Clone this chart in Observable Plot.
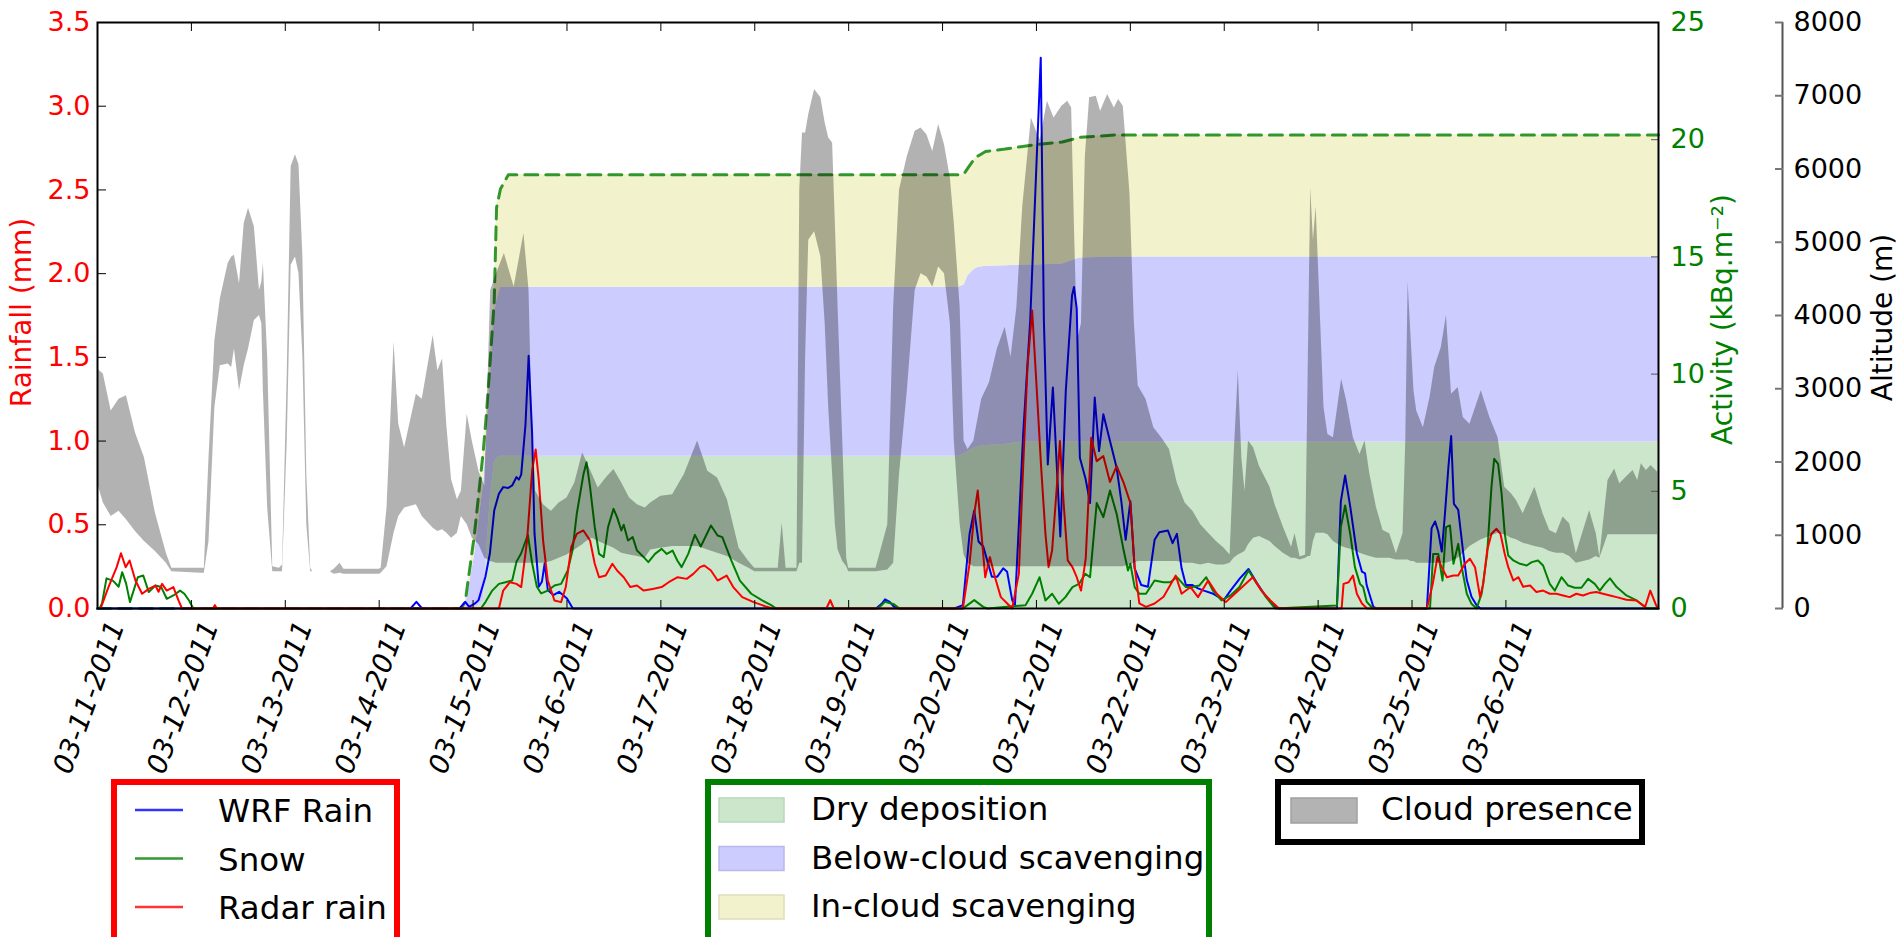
<!DOCTYPE html>
<html>
<head>
<meta charset="utf-8">
<script src="https://cdn.jsdelivr.net/npm/d3@7"></script>
<script src="https://cdn.jsdelivr.net/npm/@observablehq/plot@0.6"></script>
<style>
  body { margin: 0; background: #fff; }
  #wrap { width: 1903px; height: 937px; overflow: hidden; position: relative; }
  svg { display: block; }
</style>
</head>
<body>
<div id="wrap"></div>
<script>
// ---------- DATA (hours since 2011-03-11 00:00) ----------
const dayTickLabels = ["03-11-2011","03-12-2011","03-13-2011","03-14-2011","03-15-2011","03-16-2011","03-17-2011","03-18-2011","03-19-2011","03-20-2011","03-21-2011","03-22-2011","03-23-2011","03-24-2011","03-25-2011","03-26-2011"];
const rainfallTicks = [0, 0.5, 1.0, 1.5, 2.0, 2.5, 3.0, 3.5];
const activityTicks = [0, 5, 10, 15, 20, 25];
const altitudeTicks = [0, 1000, 2000, 3000, 4000, 5000, 6000, 7000, 8000];

// cumulative deposition levels (kBq.m-2)
const actHours      = [0, 93, 94, 96.3, 98.6, 99.5, 100.3, 101.4, 102, 103, 105, 220, 221.5, 222.5, 224, 225, 227, 232, 236, 240, 246.6, 250, 251, 260, 399];
const dryDeposition = [0, 0, 0, 0, 0.3, 2.5, 4.5, 6.2, 6.4, 6.5, 6.5, 6.5, 6.6, 6.7, 6.85, 6.9, 6.95, 7.0, 7.1, 7.1, 7.1, 7.1, 7.1, 7.1, 7.1];
const belowCloudTop = [0, 0, 0.05, 2.2, 5.2, 7.3, 9.6, 12.4, 13.1, 13.7, 13.7, 13.7, 13.8, 14.2, 14.45, 14.55, 14.6, 14.62, 14.65, 14.65, 14.7, 14.9, 14.95, 15.0, 15.0];
const totalActivity = [0, 0, 0.3, 3.1, 6.7, 8.5, 10.4, 13.1, 17.1, 17.9, 18.5, 18.5, 18.55, 18.8, 19.15, 19.3, 19.5, 19.6, 19.7, 19.8, 19.9, 20.05, 20.1, 20.2, 20.2];

// WRF rain (mm) [hour, value]
const wrfRain = [[0,0],[80,0],[81.5,0.04],[83,0],[92.5,0],[94,0.04],[95,0.01],[96.5,0.03],[97.4,0.05],[99.15,0.19],[100.3,0.33],[101.4,0.585],[102.6,0.685],[103.7,0.725],[105,0.72],[106,0.735],[107.1,0.785],[107.7,0.77],[108.3,0.8],[109.4,1.1],[110.2,1.51],[111.1,1.04],[111.7,0.45],[112.8,0.13],[113.6,0.16],[114.3,0.27],[115.1,0.11],[116.5,0.08],[118,0.1],[120,0.06],[121.5,0],
 [199,0],[200.5,0.03],[201.3,0.055],[202.5,0.04],[203.6,0.01],[205,0],[219,0],[221.2,0.02],[222.9,0.445],[224.1,0.585],[225.2,0.4],[226.4,0.37],[227.5,0.28],[228.6,0.19],[230,0.19],[231.5,0.24],[232.5,0.22],[233.8,0.05],[234.5,0.02],[235.4,0.45],[236.6,1.04],[238.4,1.72],[241.1,3.29],[241.9,1.72],[242.9,0.86],[244.2,1.32],[246.1,0.43],[247.5,1.3],[249.1,1.87],[249.6,1.92],[250.3,1.79],[251.1,0.9],[252.6,0.77],[253.7,0.63],[254.9,1.26],[256,0.94],[257.1,1.16],[258.8,1.0],[260.5,0.84],[261.7,0.64],[262.8,0.41],[264,0.64],[265.1,0.24],[266.8,0.14],[268.5,0.13],[270.2,0.41],[271.4,0.456],[273.6,0.466],[274.8,0.39],[275.9,0.446],[277.1,0.24],[278.2,0.14],[279.9,0.14],[281.3,0.12],[282.8,0.107],[285,0.09],[287.9,0.05],[289.6,0.107],[292,0.18],[294.2,0.236],[296.4,0.15],[298.7,0.07],[301,0.01],[302,0],
 [316.8,0],[317.8,0.64],[318.9,0.794],[320.2,0.61],[321.9,0.33],[323.2,0.22],[324,0.21],[324.4,0.14],[326.1,0.01],[327,0],[339.8,0],[341,0.48],[341.9,0.52],[342.7,0.46],[343.6,0.34],[344.4,0.56],[345.3,0.845],[346,1.03],[346.7,0.625],[347.8,0.59],[349.1,0.33],[350,0.17],[351.2,0.07],[352.5,0.02],[353.5,0],[399,0]];

// Snow (mm)
const snow = [[0.5,0],[1.15,0.03],[2.3,0.18],[4.0,0.165],[5.4,0.13],[6.3,0.217],[7.3,0.15],[8.3,0.038],[10.3,0.187],[11.7,0.197],[13.1,0.098],[14.8,0.137],[16.3,0.128],[17.7,0.058],[19.4,0.078],[21.1,0.107],[22.2,0.088],[23.4,0.048],[24.5,0],
 [98,0],[99.2,0.04],[100.9,0.107],[102.6,0.147],[104.3,0.157],[106,0.167],[107.1,0.28],[108.3,0.33],[110,0.44],[111.1,0.27],[112.3,0.13],[113.4,0.09],[115.1,0.107],[116.8,0.137],[118.5,0.147],[120.2,0.227],[121.4,0.346],[122.5,0.565],[124.2,0.8],[125,0.874],[125.9,0.725],[127.1,0.486],[128.2,0.326],[129.4,0.307],[130.5,0.486],[131.9,0.595],[132.8,0.546],[133.9,0.466],[134.5,0.5],[135.6,0.406],[136.8,0.426],[137.9,0.346],[139.6,0.307],[140.8,0.277],[142.5,0.326],[144.2,0.356],[145.5,0.326],[147,0.346],[148.2,0.287],[149.3,0.247],[151,0.326],[152.7,0.44],[154.2,0.37],[156.8,0.496],[158.5,0.436],[159.7,0.426],[162,0.287],[164.2,0.167],[167.1,0.088],[169.9,0.048],[172.2,0.02],[173.5,0],
 [199.5,0],[201.3,0.04],[203.6,0.025],[205,0],[221.2,0],[224.1,0.05],[226.4,0.01],[227.5,0],[237.2,0.02],[238.9,0.088],[240.8,0.187],[242.3,0.048],[244,0.088],[245.7,0.028],[247.4,0.068],[249.2,0.128],[250.9,0.147],[252.5,0.207],[253.7,0.187],[255.4,0.63],[257.1,0.546],[258.8,0.705],[260.5,0.565],[262.3,0.346],[263.4,0.227],[264,0.267],[265.1,0.128],[266.3,0.088],[268,0.088],[270.2,0.167],[272.5,0.157],[274.2,0.157],[275.9,0.187],[278.2,0.128],[279.9,0.128],[281.6,0.137],[283.4,0.187],[285.1,0.107],[287.3,0.048],[289.6,0.078],[291.9,0.128],[294.2,0.227],[296.4,0.147],[298.7,0.068],[301,0],
 [316.8,0.018],[317.8,0.486],[318.9,0.615],[320.2,0.446],[321.4,0.247],[322.7,0.147],[323.5,0.128],[324.4,0.04],[326,0],[340.6,0],[341.4,0.326],[342.7,0.326],[343.8,0.167],[344.7,0.486],[345.7,0.496],[346.6,0.267],[347.8,0.386],[348.7,0.247],[350,0.088],[351.2,0.028],[352.5,0],[353.8,0.088],[355.2,0.326],[356.3,0.725],[357,0.894],[358,0.864],[358.9,0.685],[359.7,0.446],[360.6,0.316],[361.9,0.287],[363.6,0.267],[365.3,0.257],[366.6,0.277],[368.2,0.287],[369.5,0.257],[371.2,0.147],[372.5,0.107],[374.2,0.187],[375.9,0.137],[377.6,0.124],[379.3,0.124],[381,0.177],[382.7,0.147],[384,0.107],[385.3,0.147],[386.6,0.18],[388.3,0.128],[390.8,0.078],[393.4,0.048],[396,0],[399,0]];

// Radar rain (mm)
const radarRain = [[0.8,0],[2.8,0.128],[4.9,0.247],[6,0.33],[7.2,0.247],[8.2,0.287],[9.7,0.167],[11.4,0.088],[13.1,0.117],[14.8,0.137],[15.6,0.1],[16.5,0.147],[17.7,0.107],[19.4,0.128],[20.7,0.048],[21.6,0],[29.5,0],[30,0.02],[30.5,0],
 [102.6,0],[103.7,0.107],[105.4,0.157],[107.1,0.147],[108.3,0.128],[109.8,0.406],[111.1,0.824],[112,0.95],[112.8,0.765],[113.9,0.406],[115.1,0.167],[116.8,0.048],[118.5,0.038],[119.7,0.128],[121.1,0.366],[122.5,0.446],[124.2,0.466],[125.9,0.406],[127.1,0.267],[128.2,0.187],[129.9,0.197],[131.6,0.267],[132.8,0.227],[134.5,0.187],[136.2,0.128],[137.9,0.137],[139.6,0.107],[141.9,0.117],[144.2,0.128],[146,0.157],[148.3,0.187],[150.6,0.177],[152.3,0.207],[154,0.247],[155.1,0.257],[156.8,0.227],[158.5,0.167],[160.8,0.197],[162.5,0.128],[164.8,0.068],[167.7,0.038],[171.1,0.01],[172.5,0],
 [186.3,0],[187.3,0.05],[188.2,0],[221.2,0],[222.9,0.267],[224.1,0.565],[225,0.705],[225.8,0.486],[226.9,0.187],[228.1,0.307],[229.4,0.187],[230.9,0.068],[232.6,0.028],[233.8,0],[235.5,0.207],[236.6,0.844],[237.7,1.44],[238.9,1.78],[240,1.34],[241.2,0.844],[242.3,0.446],[243.1,0.247],[244,0.346],[245.2,0.725],[246,1.0],[246.9,0.645],[248,0.287],[249.2,0.247],[250.3,0.187],[251.4,0.107],[252.6,0.3],[253.4,0.7],[254,1.02],[255.4,0.88],[257.1,0.91],[258.8,0.756],[260.5,0.85],[262.3,0.75],[264,0.63],[265.1,0.247],[266.3,0.03],[268,0.01],[270.2,0.03],[272.5,0.07],[275.6,0.197],[277.1,0.088],[279.4,0.128],[281.3,0.068],[283.9,0.167],[286.1,0.088],[288.4,0.038],[290.7,0.088],[295.3,0.187],[297.5,0.107],[299.8,0.048],[302,0],
 [318,0],[318.5,0.147],[319.8,0.157],[320.9,0.197],[321.9,0.088],[323.2,0.03],[324.5,0],[339.8,0],[341.3,0.147],[342.5,0.307],[343.6,0.247],[344.9,0.187],[346.6,0.197],[347.8,0.197],[349.5,0.267],[350.8,0.297],[352.1,0.247],[353.4,0.068],[354.2,0.147],[355.2,0.346],[356.3,0.446],[357.6,0.476],[358.6,0.446],[359.7,0.326],[360.6,0.247],[361.9,0.167],[363.2,0.187],[364.4,0.13],[366.2,0.137],[367.8,0.098],[369.5,0.107],[371.2,0.088],[372.9,0.088],[374.6,0.078],[376.3,0.068],[378,0.088],[379.7,0.078],[381.4,0.092],[383.1,0.098],[384.8,0.088],[386.6,0.078],[388.3,0.068],[390.8,0.052],[393.4,0.048],[395.6,0.01],[396.9,0.107],[398.2,0.03],[398.8,0]];

// Cloud presence: [hour, cloud top (m), cloud base (m)]
const cloudPresence = [[0,3269,1714],[1.5,3200,1440],[3.5,2697,1257],[5.5,2857,1326],[7.4,2903,1211],[9.7,2400,1051],[12,2057,914],[14.8,1303,777],[17.6,754,617],[19,549,503],[26.5,549,480],[27.3,549,480],
 [28.5,2057,914],[30,3657,2743],[31.4,4229,3314],[33.4,4709,3337],[34.3,4800,3291],[35,4823,3543],[36.3,4434,2971],[37.5,5257,3314],[38.6,5463,3543],[40.1,5211,3931],[41.4,4343,4000],[42,4457,3886],[42.4,4709,2971],[43.5,3429,1371],[44.8,571,503],[46.5,549,503],
 [47.3,594,503],[48.5,3200,2286],[49.5,6034,4686],[50.6,6194,4800],[51.5,6057,4571],[52.5,4800,3429],[53.5,1829,1143],[54.5,549,503],[55,503,503],[59.5,503,503],[60.5,537,469],[62,617,480],[63,537,469],[72,537,469],[72.5,549,480],
 [74,1371,571],[75.8,3634,1029],[77,2514,1257],[78.5,2194,1371],[81.5,2926,1417],[83,2857,1257],[85.8,3726,1097],[87,3246,1051],[88.2,3406,1074],[89.3,2491,1029],[90.5,1760,960],[92,1486,1029],[93,1600,1257],[94.5,2651,1143],[95.8,2286,960],[97.5,1874,869],[99,1669,686],
 [100.5,4343,640],[102,4571,617],[104,4846,617],[106.5,4389,617],[109,5120,617],[110.3,4343,617],[111,2743,617],[112,1600,617],[114,1417,617],[116,1326,640],[118,1440,686],[120,1509,731],[122,1714,800],[124,2126,869],[125,2011,914],[126.5,1829,960],[128,1646,914],[130,1783,869],[132,1897,823],[134,1714,754],[136,1509,731],[138,1417,709],[140,1371,686],
 [141.4,1440,800],[144,1531,823],[147,1554,846],[150,1829,846],[153.4,2286,846],[156,1874,800],[158.5,1783,754],[161,1486,709],[164,823,617],[166.5,640,549],[168,549,503],[174,549,503],[175,1166,503],[176,549,503],[178.8,549,503],
 [179.5,5714,617],[180.2,6491,617],[181,6491,3429],[181.8,6743,5029],[183.3,7086,5143],[184.9,6971,4800],[186,6629,3886],[186.9,6423,2743],[187.9,6354,1829],[188.6,5257,1143],[189.3,4114,800],[190.5,2286,640],[191.5,686,571],[192,549,503],[199,549,503],
 [202,1143,526],[203.5,4114,617],[205,5714,1829],[207,6171,2971],[209,6514,4343],[210.5,6560,4571],[212,6469,4526],[213.5,6240,4389],[215,6606,4663],[216.5,6331,4571],[218,5874,3886],[219,5257,2286],[220.5,4114,1143],[221.5,2286,731],
 [222.5,2171,617],[224,2286,571],[226,2857,571],[228,3086,571],[230,3543,571],[232,3840,571],[233.5,3429,571],[235,4114,571],[236.5,5486,571],[238.7,6697,571],[240,6514,571],[241,6400,571],[242.8,6926,571],[244.5,6697,571],[246.5,6857,571],[248,6926,571],[249,6834,571],[249.8,5029,571],[250.5,3657,571],[251.5,3886,571],[252.5,6171,571],[253.6,6971,571],[255.3,6994,571],[256.4,6789,571],[258.2,7017,571],[259.9,6834,571],[261,6949,571],[262.2,6857,571],[263.9,5669,594],[265,3931,617],
 [266,3040,640],[268,2857,640],[270,2469,640],[272,2331,640],[274,2171,640],[276,1714,640],[278,1440,617],[280,1326,617],[282,1143,594],[284,1029,617],[286,914,594],[288,823,594],[289.5,731,617],[290.5,2057,686],[291.6,3246,731],[292.5,2057,754],[293.3,1600,777],[294.2,2286,869],[295.5,2194,960],[297,1943,983],[299.7,1657,914],[301,1417,846],[303.1,1111,754],[305.2,837,686],[306.1,1019,686],[307.4,702,663],[308.8,731,686],
 [309.5,3429,709],[310.1,5737,709],[310.8,5029,914],[311.5,5486,1029],[312.5,4114,1029],[313.5,2743,1029],[314.5,2377,1006],[315.9,2331,914],[318,3131,846],[319.3,2834,823],[321,2331,800],[322.7,2103,754],[324,2286,731],[325.2,1840,709],[326.9,1383,686],[328.6,1065,686],[330.3,1019,686],[332,747,663],[333.7,1019,663],
 [334.4,2286,663],[335,4457,663],[335.8,3657,640],[336.5,2971,640],[337.2,2697,617],[338.9,2469,617],[340.6,2880,617],[341.8,3291,617],[343.5,3566,617],[344.8,4000,617],[346.1,2926,640],[347.8,3017,686],[349.1,2606,754],[350.8,2514,846],[353.7,2971,937],[355.9,2606,983],[358,2331,1029],[359.7,1657,1006],[361.4,1566,960],[362.7,1474,937],[364.4,1294,891],[367.4,1657,846],[369.5,1294,823],[371.2,1065,777],[372.9,1019,754],[374.6,1248,754],[376.3,1157,709],[378,747,617],[381.4,1337,663],[383.1,1019,709],[384,702,686],
 [386.1,1749,1006],[387.8,1906,1006],[389.1,1703,1006],[390.8,1794,1006],[392.5,1883,1006],[393.7,1749,1006],[394.6,1975,1006],[395.9,1883,1006],[397.1,1952,1006],[398.8,1861,1006]];

// ---------- HELPERS ----------
const t0 = Date.UTC(2011, 2, 11);
const toDate = h => new Date(t0 + h * 3600e3);
const KBQ = 3.5 / 25;     // activity -> rainfall-axis units
const MET = 3.5 / 8000;   // altitude -> rainfall-axis units
const dayDates = dayTickLabels.map((_, i) => toDate(24 * i));
const act = actHours.map((h, i) => ({h, dry: dryDeposition[i], below: belowCloudTop[i], total: totalActivity[i]}));

const FONT = "DejaVu Sans";
const chart = Plot.plot({
  width: 1903, height: 778,
  marginLeft: 97, marginRight: 245, marginTop: 22, marginBottom: 170,
  x: {type: "utc", domain: [toDate(0), toDate(399)], axis: null},
  y: {domain: [0, 3.5], axis: null},
  style: {fontFamily: FONT, fontSize: "27px", background: "white", overflow: "visible"},
  marks: [
    Plot.areaY(act, {x: d => toDate(d.h), y1: 0, y2: d => d.dry * KBQ, fill: "#cce6cc"}),
    Plot.areaY(act, {x: d => toDate(d.h), y1: d => d.dry * KBQ, y2: d => d.below * KBQ, fill: "#ccccff"}),
    Plot.areaY(act, {x: d => toDate(d.h), y1: d => d.below * KBQ, y2: d => d.total * KBQ, fill: "#f2f2cc"}),
    Plot.line(act, {x: d => toDate(d.h), y: d => d.total * KBQ, stroke: "#008000", strokeOpacity: 0.8, strokeWidth: 3, strokeDasharray: "13,8"}),
    Plot.line(wrfRain, {x: d => toDate(d[0]), y: d => d[1], stroke: "#0000ff", strokeWidth: 2}),
    Plot.line(snow, {x: d => toDate(d[0]), y: d => d[1], stroke: "#008000", strokeWidth: 2}),
    Plot.line(radarRain, {x: d => toDate(d[0]), y: d => d[1], stroke: "#ff0000", strokeWidth: 2}),
    Plot.areaY(cloudPresence, {x: d => toDate(d[0]), y1: d => d[2] * MET, y2: d => d[1] * MET, fill: "black", fillOpacity: 0.3}),
    // x ticks (inward) top & bottom
    Plot.axisX({anchor: "bottom", ticks: dayDates, tickSize: -8, tickFormat: () => "", label: null, stroke: "black"}),
    Plot.axisX({anchor: "top", ticks: dayDates, tickSize: -8, tickFormat: () => "", label: null, stroke: "black"}),
    Plot.text(dayDates, {x: d => d, frameAnchor: "bottom", dy: 92, rotate: -70, text: (d, i) => dayTickLabels[i],
      textAnchor: "middle", fontStyle: "italic", fontSize: 27.5, fill: "black"}),
    // left rainfall axis
    Plot.axisY({anchor: "left", ticks: rainfallTicks, tickSize: -9, tickPadding: 16, tickFormat: d => d.toFixed(1),
      label: null, fill: "#ff0000", stroke: "black", fontSize: 27}),
    // activity axis (right)
    Plot.axisY({anchor: "right", ticks: activityTicks.map(v => v * KBQ), tickSize: -8, tickPadding: 20,
      tickFormat: d => String(Math.round(d / KBQ)), label: null, fill: "#008000", stroke: "#555", fontSize: 27}),
    // altitude axis (offset right)
    Plot.ruleX([toDate(399)], {dx: 124, stroke: "#555", strokeWidth: 2}),
    Plot.axisY({anchor: "right", dx: 124, ticks: altitudeTicks.map(v => v * MET), tickSize: -8, tickPadding: 19,
      tickFormat: d => String(Math.round(d / MET)), label: null, fill: "black", stroke: "#777", strokeWidth: 2, fontSize: 27}),
    // axis titles
    Plot.text(["Rainfall (mm)"], {text: d => d, frameAnchor: "left", dx: -75, dy: -3, rotate: -90, textAnchor: "middle", fill: "#ff0000", fontSize: 28}),
    Plot.text(["Activity (kBq.m⁻²)"], {text: d => d, frameAnchor: "right", dx: 65, dy: 4, rotate: -90, textAnchor: "middle", fill: "#008000", fontSize: 28}),
    Plot.text(["Altitude (m)"], {text: d => d, frameAnchor: "right", dx: 225, dy: 2, rotate: -90, textAnchor: "middle", fill: "black", fontSize: 28}),
    Plot.frame({stroke: "black", strokeWidth: 2})
  ]
});
document.getElementById("wrap").appendChild(chart);

// ---------- LEGENDS (below the plot SVG) ----------
const legendLines = [{label: "WRF Rain", color: "#3333ff"}, {label: "Snow", color: "#339933"}, {label: "Radar rain", color: "#ff3333"}];
const legendFills = [{label: "Dry deposition", fill: "#cce6cc", edge: "#b8d8b8"}, {label: "Below-cloud scavenging", fill: "#ccccff", edge: "#b8b8ee"}, {label: "In-cloud scavenging", fill: "#f2f2cc", edge: "#dedeb8"}];
const legendCloud = [{label: "Cloud presence", fill: "#b3b3b3", edge: "#a0a0a0"}];

const lg = d3.create("svg").attr("width", 1903).attr("height", 159)
  .style("font-family", FONT).style("font-size", "32.5px");
// boxes
lg.append("rect").attr("x", 114).attr("y", 4).attr("width", 283).attr("height", 200).attr("fill", "white").attr("stroke", "#ff0000").attr("stroke-width", 6);
lg.append("rect").attr("x", 708).attr("y", 4).attr("width", 501).attr("height", 200).attr("fill", "white").attr("stroke", "#008000").attr("stroke-width", 6);
lg.append("rect").attr("x", 1278).attr("y", 4).attr("width", 364).attr("height", 60).attr("fill", "white").attr("stroke", "black").attr("stroke-width", 6);
legendLines.forEach((d, i) => {
  const y = 32 + i * 48.5;
  lg.append("line").attr("x1", 135).attr("x2", 183).attr("y1", y).attr("y2", y).attr("stroke", d.color).attr("stroke-width", 2.5);
  lg.append("text").attr("x", 218).attr("y", y + 12).text(d.label);
});
legendFills.forEach((d, i) => {
  const y = 20 + i * 48.5;
  lg.append("rect").attr("x", 719).attr("y", y).attr("width", 65).attr("height", 24).attr("fill", d.fill).attr("stroke", d.edge).attr("stroke-width", 1.5);
  lg.append("text").attr("x", 811).attr("y", y + 22).text(d.label);
});
legendCloud.forEach((d) => {
  lg.append("rect").attr("x", 1291).attr("y", 20).attr("width", 66).attr("height", 25).attr("fill", d.fill).attr("stroke", d.edge).attr("stroke-width", 1.5);
  lg.append("text").attr("x", 1381).attr("y", 42).text(d.label);
});
document.getElementById("wrap").appendChild(lg.node());
</script>
</body>
</html>
